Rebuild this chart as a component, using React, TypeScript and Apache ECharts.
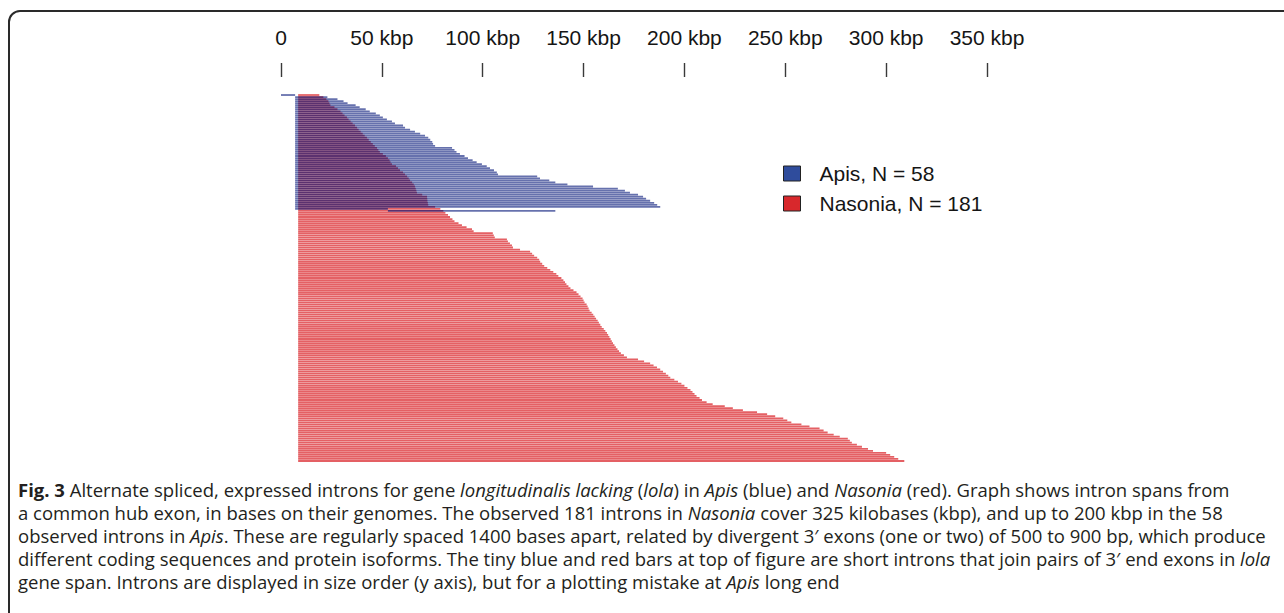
import React, { useEffect, useRef } from 'react';
import * as echarts from 'echarts';

// ---- data (kbp) ----
const axisStep = 50;
const axisMax = 350;
const axisUnit = 'kbp';

const apisName = 'Apis, N = 58';
const nasoniaName = 'Nasonia, N = 181';

// Apis: short 3' intron at top row, then hub introns (start, end), then misplotted long end
const apisShortIntron = [0, 7];
const apisHubStart = 7;
const apisIntronEnds = [
  23, 28, 31, 33, 37, 39, 42, 44, 47, 49,
  50.5, 52.5, 55, 56.5, 60.5, 61.5, 64, 66.4, 69, 71.4,
  73, 74, 75, 75.4, 76.4, 84.8, 86, 87, 88.7, 91,
  92.7, 95, 97, 99.6, 102, 103.6, 105.6, 107, 107.6, 127,
  128.4, 133, 136, 142, 154.7, 167, 170.5, 173, 177, 179.5,
  181, 183, 185, 186.5, 188, 53,
];
const apisMisplotted = [53, 136];

// Nasonia
const nasoniaShortIntron = [8.5, 19];
const nasoniaHubStart = 8.5;
const nasoniaIntronEnds = [
  21, 22.5, 23.5, 24, 24.5, 26.5, 28, 29.5, 30.5, 31.5,
  32.7, 33.5, 34.5, 35.5, 36.7, 37.7, 38.5, 39.5, 40.5, 41.5,
  42.6, 43.5, 44.5, 45.5, 46.5, 47.6, 48.3, 49, 50.5, 52,
  53, 53.8, 54.3, 55, 57, 58, 59, 60.5, 61.5, 62.5,
  63.3, 64, 65, 65.8, 66.4, 66.8, 67.1, 67.4, 70, 72.4,
  72.5, 72.6, 72.8, 73, 76.4, 79, 80.5, 81.5, 82.8, 83.8,
  85, 86, 88, 89.7, 92, 94.7, 95.5, 105, 105.5, 106,
  112, 112.5, 113.5, 114.5, 115, 118.5, 123.5, 124.5, 125.5, 127,
  128, 128.5, 129.5, 130.5, 132, 133.5, 135, 136.5, 137.5, 139,
  140, 140.8, 141.5, 142.5, 143.5, 145, 146.5, 147.5, 148.5, 149.5,
  150, 150.5, 151.5, 152, 152.5, 153, 154, 154.8, 155.5, 156.2,
  157, 157.6, 158.3, 159, 160, 160.8, 161.6, 162.2, 162.8, 163.4,
  164, 164.6, 165.3, 166, 166.8, 167.6, 168.5, 170, 171.5, 177,
  180, 183, 184.7, 186.4, 188, 189.4, 190.8, 192, 193, 195,
  196.8, 198.5, 200, 201.5, 203, 204, 205, 206, 207.5, 208.7,
  211, 214, 220, 224, 229, 236, 241, 245, 249, 251,
  253, 258, 262, 267, 269, 271, 274, 277, 281, 282,
  283, 285.5, 288, 291, 293.5, 300, 302, 304, 306, 309,
];

const captionLines = [
  '{b|Fig. 3} Alternate spliced, expressed introns for gene {i|longitudinalis lacking} ({i|lola}) in {i|Apis} (blue) and {i|Nasonia} (red). Graph shows intron spans from',
  'a common hub exon, in bases on their genomes. The observed 181 introns in {i|Nasonia} cover 325 kilobases (kbp), and up to 200 kbp in the 58',
  'observed introns in {i|Apis}. These are regularly spaced 1400 bases apart, related by divergent 3\u2032 exons (one or two) of 500 to 900 bp, which produce',
  'different coding sequences and protein isoforms. The tiny blue and red bars at top of figure are short introns that join pairs of 3\u2032 end exons in {i|lola}',
  'gene span. Introns are displayed in size order (y axis), but for a plotting mistake at {i|Apis} long end',
];

// ---- build rows: [row, start, end] ----
const apisRows: number[][] = [[0, apisShortIntron[0], apisShortIntron[1]]];
apisIntronEnds.forEach((e, i) => apisRows.push([i + 1, apisHubStart, e]));
apisRows.push([apisIntronEnds.length + 1, apisMisplotted[0], apisMisplotted[1]]);

const nasoniaRows: number[][] = [[0, nasoniaShortIntron[0], nasoniaShortIntron[1]]];
nasoniaIntronEnds.forEach((e, i) => nasoniaRows.push([i + 1, nasoniaHubStart, e]));

const nRows = nasoniaRows.length;
// blank space (in rows) between tick marks and first intron row
const topPadRows = 8.36;

const makeRender = (fill: string) => (params: any, api: any) => {
  const row = api.value(0);
  const p1 = api.coord([api.value(1), row]);
  const p2 = api.coord([api.value(2), row]);
  const h = api.size([0, 1])[1] * 0.88;
  return {
    type: 'rect',
    shape: { x: p1[0], y: p1[1] - h / 2, width: p2[0] - p1[0], height: h },
    style: { fill },
  };
};

const capFont = '"Open Sans", Lato, sans-serif';
const capSize = 18.5;
const capColor = '#231f20';

export default function App() {
  const ref = useRef<HTMLDivElement>(null);
  useEffect(() => {
    const chart = echarts.init(ref.current!, null, { renderer: 'svg' });
    const option: any = {
      animation: false,
      backgroundColor: '#ffffff',
      grid: { left: 281, top: 77, width: 706, height: 385 },
      xAxis: {
        type: 'value',
        position: 'top',
        min: 0,
        max: axisMax,
        interval: axisStep,
        axisLine: { show: false, onZero: false },
        splitLine: { show: false },
        axisTick: { show: true, inside: false, length: 14, lineStyle: { color: '#3a3a3a', width: 1.4 } },
        axisLabel: {
          margin: 29,
          fontSize: 21,
          fontFamily: '"Liberation Sans", Arial, sans-serif',
          color: '#151515',
          formatter: (v: number) => (v === 0 ? '0' : `${v} ${axisUnit}`),
        },
      },
      yAxis: {
        type: 'value',
        inverse: true,
        min: -0.5 - topPadRows,
        max: nRows - 0.5,
        show: false,
      },
      legend: {
        orient: 'vertical',
        left: 783,
        top: 163,
        padding: 0,
        itemWidth: 17,
        itemHeight: 15,
        itemGap: 9,
        icon: 'rect',
        textStyle: {
          fontSize: 21,
          fontFamily: '"Liberation Sans", Arial, sans-serif',
          color: '#151515',
          padding: [0, 0, 0, 14],
        },
        data: [
          { name: apisName, itemStyle: { color: '#2f4c9c', borderColor: '#222', borderWidth: 1 } },
          { name: nasoniaName, itemStyle: { color: '#d8282c', borderColor: '#222', borderWidth: 1 } },
        ],
      },
      series: [
        {
          type: 'custom',
          name: nasoniaName,
          renderItem: makeRender('rgb(228,96,100)'),
          encode: { x: [1, 2], y: 0 },
          data: nasoniaRows,
          z: 2,
        },
        {
          type: 'custom',
          name: apisName,
          renderItem: makeRender('rgba(0,18,118,0.6)'),
          encode: { x: [1, 2], y: 0 },
          data: apisRows,
          z: 3,
        },
      ],
      graphic: [
        {
          type: 'rect',
          shape: { x: 9, y: 11, width: 1320, height: 660, r: 11 },
          style: { fill: 'none', stroke: '#2a2a2a', lineWidth: 2 },
          silent: true,
        },
        ...captionLines.map((t, i) => ({
          type: 'text',
          x: 18,
          y: 489 + i * 23,
          style: {
            text: t,
            fontSize: capSize,
            fontFamily: capFont,
            fill: capColor,
            verticalAlign: 'middle',
            rich: {
              b: { fontWeight: 'bold', fontSize: capSize, fontFamily: capFont, fill: capColor },
              i: { fontStyle: 'italic', fontSize: capSize, fontFamily: capFont, fill: capColor },
            },
          },
          silent: true,
        })),
      ],
    };
    chart.setOption(option);
    return () => chart.dispose();
  }, []);
  return (
    <div
      ref={ref}
      style={{ position: 'fixed', left: 0, top: 0, width: 1284, height: 613, background: '#fff' }}
    />
  );
}
